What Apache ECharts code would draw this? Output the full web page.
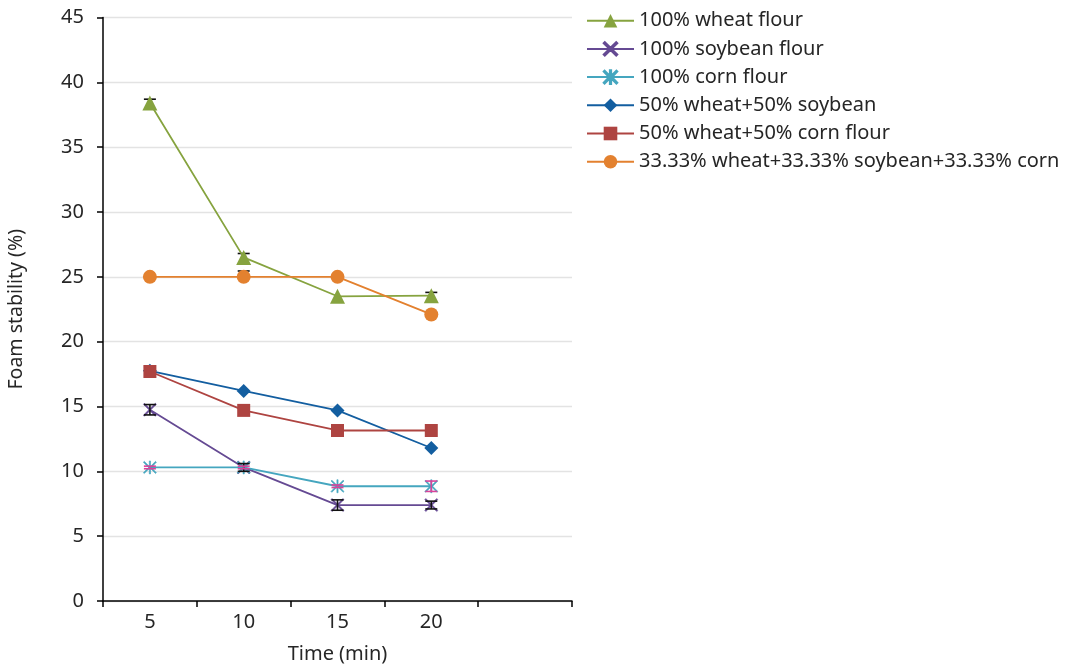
<!DOCTYPE html>
<html>
<head>
<meta charset="utf-8">
<script src="https://cdn.jsdelivr.net/npm/echarts@6/dist/echarts.min.js"></script>
<style>html,body{margin:0;padding:0;background:#fff}#c{width:1078px;height:669px}</style>
</head>
<body>
<div id="c"></div>
<script>
var categories = ['5', '10', '15', '20', ''];
var yTicks = [0, 5, 10, 15, 20, 25, 30, 35, 40, 45];
var seriesNames = ['100% wheat flour', '100% soybean flour', '100% corn flour', '50% wheat+50% soybean', '50% wheat+50% corn flour', '33.33% wheat+33.33% soybean+33.33% corn'];
var wheat = [38.4, 26.5, 23.5, 23.55];
var soybean = [14.75, 10.3, 7.4, 7.4];
var corn = [10.3, 10.3, 8.85, 8.85];
var wheatSoy = [17.75, 16.2, 14.7, 11.8];
var wheatCorn = [17.7, 14.7, 13.15, 13.15];
var triple = [25.0, 25.0, 25.0, 22.1];
// error bars (plus / minus)
var wheatErrUp = [0.3, 0.3, 0, 0.25];
var wheatErrDown = [0, 0, 0, 0];
var soybeanErrUp = [0.4, 0.3, 0.4, 0.3];
var soybeanErrDown = [0.4, 0.3, 0.4, 0.3];
var cornErrUp = [0.1, 0.1, 0.1, 0.4];
var cornErrDown = [0.1, 0.1, 0.1, 0.4];
var wheatSoyErrUp = [0, 0, 0, 0];
var wheatSoyErrDown = [0, 0, 0, 0];
var wheatCornErrUp = [0.35, 0, 0.35, 0];
var wheatCornErrDown = [0, 0, 0, 0];
var tripleErrUp = [0, 0.45, 0, 0];
var tripleErrDown = [0, 0, 0, 0];

var X_PATH = 'path://M0,1.6 L1.6,0 L10,8.4 L18.4,0 L20,1.6 L11.6,10 L20,18.4 L18.4,20 L10,11.6 L1.6,20 L0,18.4 L8.4,10 Z';
var STAR_PATH = 'path://M9.1,0 L10.9,0 L10.9,8.4 L18.6,0.6 L19.9,1.9 L12.2,10 L19.9,18.1 L18.6,19.4 L10.9,11.6 L10.9,20 L9.1,20 L9.1,11.6 L1.4,19.4 L0.1,18.1 L7.8,10 L0.1,1.9 L1.4,0.6 L9.1,8.4 Z';

var colors = ['#86A33F', '#654A93', '#45A6BF', '#135EA0', '#AE4441', '#E3812F'];
var symbols = ['triangle', X_PATH, STAR_PATH, 'diamond', 'rect', 'circle'];
var sizes = [15, 13, 13, 14, 13, 14];
var values = [wheat, soybean, corn, wheatSoy, wheatCorn, triple];
var errUps = [wheatErrUp, soybeanErrUp, cornErrUp, wheatSoyErrUp, wheatCornErrUp, tripleErrUp];
var errDowns = [wheatErrDown, soybeanErrDown, cornErrDown, wheatSoyErrDown, wheatCornErrDown, tripleErrDown];
var errColors = ['#111', '#111', '#D9439A', '#111', '#D9439A', '#111'];
var errOnTop = [false, true, true, false, false, false];

var series = [];
values.forEach(function (v, i) {
  series.push({
    name: seriesNames[i], type: 'line', data: v,
    symbol: symbols[i], symbolSize: sizes[i],
    lineStyle: { color: colors[i], width: 1.8 },
    itemStyle: { color: colors[i], borderColor: colors[i], borderWidth: (i === 1 || i === 2) ? 0.6 : 0 },
    z: 2 + i, animation: false
  });
});
values.forEach(function (v, i) {
  series.push({
    type: 'custom', z: errOnTop[i] ? 20 : 1, animation: false, silent: true,
    data: v.map(function (val, k) { return [k, val, errUps[i][k], errDowns[i][k]]; }),
    renderItem: function (params, api) {
      var x = api.value(0), y = api.value(1), eu = api.value(2), ed = api.value(3);
      var w = 6;
      var st = { stroke: errColors[i], lineWidth: 1.6 };
      var c = api.coord([x, y]);
      var children = [];
      if (eu > 0) {
        var t = api.coord([x, y + eu]);
        children.push({ type: 'line', shape: { x1: c[0], y1: c[1], x2: t[0], y2: t[1] }, style: st });
        children.push({ type: 'line', shape: { x1: t[0] - w, y1: t[1], x2: t[0] + w, y2: t[1] }, style: st });
      }
      if (ed > 0) {
        var b = api.coord([x, y - ed]);
        children.push({ type: 'line', shape: { x1: c[0], y1: c[1], x2: b[0], y2: b[1] }, style: st });
        children.push({ type: 'line', shape: { x1: b[0] - w, y1: b[1], x2: b[0] + w, y2: b[1] }, style: st });
      }
      return { type: 'group', children: children };
    }
  });
});

var FONT = 'Noto Sans';
var TXT = '#262626';
var chart = echarts.init(document.getElementById('c'), null, { renderer: 'canvas' });
chart.setOption({
  animation: false,
  textStyle: { fontFamily: FONT },
  grid: { left: 103, right: 506, top: 17.5, bottom: 68, containLabel: false },
  legend: {
    data: seriesNames, orient: 'vertical', left: 586, top: 8.7, padding: 0,
    itemWidth: 47, itemHeight: 17, itemGap: 4.2, selectedMode: false,
    textStyle: { fontFamily: FONT, fontSize: 20, color: TXT, lineHeight: 24 }
  },
  xAxis: {
    type: 'category', data: categories, boundaryGap: true,
    name: 'Time (min)', nameLocation: 'middle', nameGap: 43,
    nameTextStyle: { fontFamily: FONT, fontSize: 20, color: TXT },
    axisLine: { lineStyle: { color: '#000', width: 1.5 } },
    axisTick: { show: true, length: 6, alignWithLabel: false, lineStyle: { color: '#000', width: 1.5 } },
    axisLabel: { fontFamily: FONT, fontSize: 20, color: TXT, margin: 11, interval: 0 },
    splitLine: { show: false }
  },
  yAxis: {
    type: 'value', min: yTicks[0], max: yTicks[yTicks.length - 1], interval: 5,
    name: 'Foam stability (%)', nameLocation: 'middle', nameGap: 77,
    nameTextStyle: { fontFamily: FONT, fontSize: 19.5, color: TXT },
    axisLine: { show: true, lineStyle: { color: '#000', width: 1.5 } },
    axisTick: { show: true, length: 6, lineStyle: { color: '#000', width: 1.5 } },
    axisLabel: { fontFamily: FONT, fontSize: 20, color: TXT, margin: 19 },
    splitLine: { show: true, lineStyle: { color: '#E3E3E3', width: 1.3 } }
  },
  series: series
});
</script>
</body>
</html>
